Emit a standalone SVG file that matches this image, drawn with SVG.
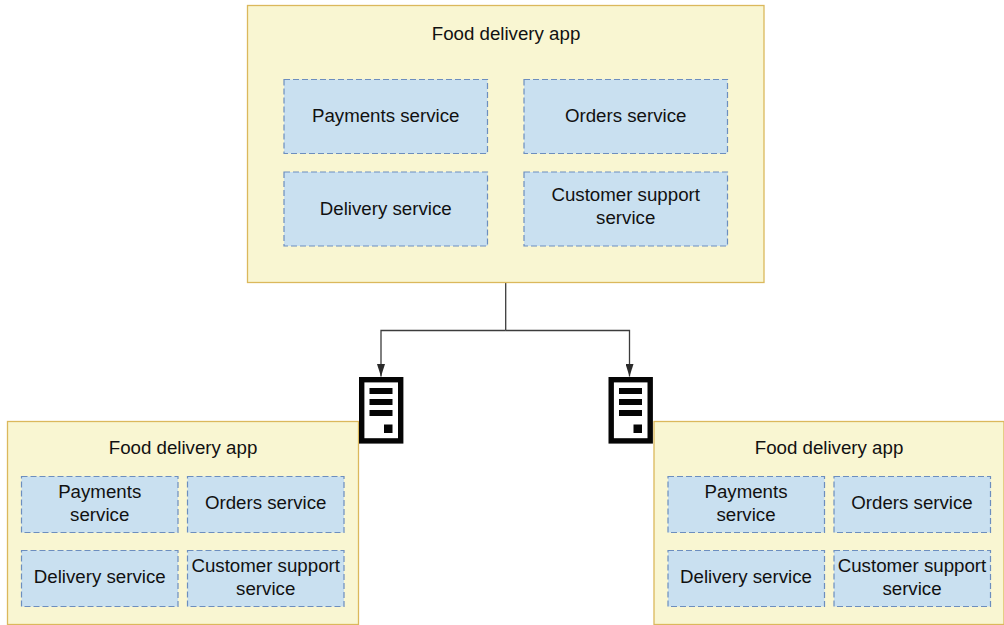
<svg xmlns="http://www.w3.org/2000/svg" width="1004" height="625" viewBox="0 0 1004 625">
<style>
.app{fill:#f9f6d2;stroke:#dbb85c;stroke-width:1.3}
.svc{fill:#c9e0f0;stroke:#6c8ebf;stroke-width:1.2;stroke-dasharray:6 3}
text{font-family:"Liberation Sans",Arial,sans-serif;font-size:18.7px;fill:#111;text-anchor:middle}
.conn{fill:none;stroke:#3c3c3c;stroke-width:1.3}
.frame{fill:#fff;stroke:#050505;stroke-width:5.4}
.bar{fill:#050505}
</style>
<defs>
<marker id="arrow" markerUnits="userSpaceOnUse" markerWidth="8" markerHeight="13" refX="4" refY="12.500" viewBox="0 0 8 13" orient="0">
<path d="M0 0L4 12.500L8 0Z" fill="#2a2a2a"/>
</marker>
<g id="server">
<rect class="frame" x="2.700" y="2.700" width="39" height="61.200"/>
<rect class="bar" x="10.500" y="11" width="23" height="6"/>
<rect class="bar" x="10.500" y="22" width="23" height="6"/>
<rect class="bar" x="10.500" y="33" width="23" height="6"/>
<rect class="bar" x="25" y="47.500" width="8.500" height="8.500"/>
</g>
</defs>
<g id="connectors">
<path class="conn" d="M505.700 282.500V330.500"/>
<path class="conn" d="M505.700 330.500H381V376.500" marker-end="url(#arrow)"/>
<path class="conn" d="M505.700 330.500H629.500V376.500" marker-end="url(#arrow)"/>
</g>
<g id="app-top">
<rect class="app" x="247.500" y="5.500" width="516.500" height="277"/>
<text x="506" y="40">Food delivery app</text>
<g id="top-payments"><rect class="svc" x="284" y="79.500" width="203.500" height="74"/><text x="385.700" y="122">Payments service</text></g>
<g id="top-orders"><rect class="svc" x="524" y="79.500" width="203.500" height="74"/><text x="625.700" y="122">Orders service</text></g>
<g id="top-delivery"><rect class="svc" x="284" y="172" width="203.500" height="74"/><text x="385.700" y="215">Delivery service</text></g>
<g id="top-support"><rect class="svc" x="524" y="172" width="203.500" height="74"/><text x="625.700" y="201">Customer support</text><text x="625.700" y="224">service</text></g>
</g>
<g id="app-left">
<rect class="app" x="7.500" y="421.500" width="351" height="203"/>
<text x="183" y="454">Food delivery app</text>
<g id="left-payments"><rect class="svc" x="21.500" y="476.500" width="156.500" height="56"/><text x="99.700" y="498">Payments</text><text x="99.700" y="521">service</text></g>
<g id="left-orders"><rect class="svc" x="187.500" y="476.500" width="156.500" height="56"/><text x="265.700" y="509">Orders service</text></g>
<g id="left-delivery"><rect class="svc" x="21.500" y="550.500" width="156.500" height="56"/><text x="99.700" y="583">Delivery service</text></g>
<g id="left-support"><rect class="svc" x="187.500" y="550.500" width="156.500" height="56"/><text x="265.700" y="572">Customer support</text><text x="265.700" y="595">service</text></g>
</g>
<g id="app-right">
<rect class="app" x="654" y="421.500" width="350" height="203"/>
<text x="829" y="454">Food delivery app</text>
<g id="right-payments"><rect class="svc" x="668" y="476.500" width="156.500" height="56"/><text x="746" y="498">Payments</text><text x="746" y="521">service</text></g>
<g id="right-orders"><rect class="svc" x="834" y="476.500" width="156.500" height="56"/><text x="912" y="509">Orders service</text></g>
<g id="right-delivery"><rect class="svc" x="668" y="550.500" width="156.500" height="56"/><text x="746" y="583">Delivery service</text></g>
<g id="right-support"><rect class="svc" x="834" y="550.500" width="156.500" height="56"/><text x="912" y="572">Customer support</text><text x="912" y="595">service</text></g>
</g>
<g id="server-left"><use href="#server" x="359" y="377"/></g>
<g id="server-right"><use href="#server" x="608.500" y="377"/></g>
</svg>
